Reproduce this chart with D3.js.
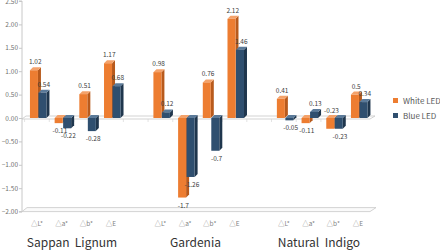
<!DOCTYPE html>
<html>
<head>
<meta charset="utf-8">
<script src="https://cdn.jsdelivr.net/npm/d3@7"></script>
<style>
  body { margin: 0; background: #fff; }
  text { font-family: "Noto Sans CJK KR", "Noto Sans", sans-serif; }
</style>
</head>
<body>
<svg id="chart" width="440" height="251"></svg>
<script>
// chart data
var metrics = ["△L*", "△a*", "△b*", "△E"];
var groups = ["Sappan  Lignum", "Gardenia", "Natural  Indigo"];
var whiteLED = [1.02, -0.11, 0.51, 1.17, 0.98, -1.7, 0.76, 2.12, 0.41, -0.11, -0.23, 0.5];
var blueLED = [0.54, -0.22, -0.28, 0.68, 0.12, -1.26, -0.7, 1.46, -0.05, 0.13, -0.23, 0.34];
var yTicks = [2.5, 2, 1.5, 1, 0.5, 0, -0.5, -1, -1.5, -2];
var seriesNames = ["White LED", "Blue LED"];

var colors = {
  white: { front: "#ed7d31", side: "#b85a1c", top: "#f4a26a" },
  blue: { front: "#2f4f6f", side: "#1f364d", top: "#5b7a99" }
};

var svg = d3.select("#chart");
var depth = 3;

// slots: 4 metrics per group, with an empty slot between groups
var slots = [];
var rows = [];
groups.forEach(function (g, gi) {
  metrics.forEach(function (m, mi) {
    var key = g + "|" + m;
    slots.push(key);
    rows.push({ key: key, metric: m, group: g, white: whiteLED[gi * 4 + mi], blue: blueLED[gi * 4 + mi] });
  });
  if (gi < groups.length - 1) slots.push("gap" + gi);
});

var x = d3.scaleBand().domain(slots).range([24.6, 370.3]).padding(0);
var x1 = d3.scaleBand().domain(["white", "blue"]).range([0, 17]);
var y = d3.scaleLinear().domain([-2, 2.5]).range([211.6, 1]);

// y axis
var yAxis = svg.append("g")
  .attr("transform", "translate(22,0)")
  .call(d3.axisLeft(y).tickValues(yTicks).tickSize(3).tickFormat(d3.format(".2f")));
yAxis.select(".domain").attr("stroke", "#c8c8c8").attr("d", "M-3," + y(2.5) + "H0V" + y(-2) + "H-3");
yAxis.selectAll(".tick line").attr("stroke", "#c8c8c8");
yAxis.selectAll(".tick text").attr("fill", "#707070").style("font-size", "6.5px").attr("x", -4);

// floor
var x0 = 22, xEnd = 370;
svg.append("path")
  .attr("d", "M" + x0 + "," + y(-2) + "L" + (x0 + 5) + "," + (y(-2) - 4) + "L" + (xEnd + 6) + "," + (y(-2) - 4) + "L" + xEnd + "," + y(-2) + "Z")
  .attr("fill", "#fafafa").attr("stroke", "#c8c8c8").attr("stroke-width", 0.8);

// zero plane
svg.append("path")
  .attr("d", "M" + x0 + "," + (y(0) + 1) + "L" + (x0 + 4) + "," + (y(0) - 2) + "L" + (xEnd + 5) + "," + (y(0) - 2) + "L" + xEnd + "," + (y(0) + 1) + "Z")
  .attr("fill", "none").attr("stroke", "#c8c8c8").attr("stroke-width", 0.8);

// small ticks along zero plane
svg.append("g").selectAll("line")
  .data(slots)
  .join("line")
  .attr("x1", function (d) { return x(d); })
  .attr("x2", function (d) { return x(d); })
  .attr("y1", y(0) + 1).attr("y2", y(0) + 4)
  .attr("stroke", "#d0d0d0").attr("stroke-width", 0.6);

// bars
function bar3d(g, bx, bw, v, c) {
  var yt = Math.min(y(v), y(0));
  var yb = Math.max(y(v), y(0));
  g.append("path")
    .attr("d", "M" + (bx + bw) + "," + yt + "l" + depth + "," + (-depth) + "V" + (yb - depth) + "l" + (-depth) + "," + depth + "Z")
    .attr("fill", c.side);
  g.append("path")
    .attr("d", "M" + bx + "," + yt + "l" + depth + "," + (-depth) + "h" + bw + "l" + (-depth) + "," + depth + "Z")
    .attr("fill", c.top);
  g.append("rect")
    .attr("x", bx).attr("y", yt)
    .attr("width", bw).attr("height", Math.max(yb - yt, 0.5))
    .attr("fill", c.front);
}

var barG = svg.append("g");
rows.forEach(function (d) {
  var cx = x(d.key) + x.bandwidth() / 2 - 7;
  ["white", "blue"].forEach(function (s) {
    bar3d(barG, cx + x1(s), x1.bandwidth() - 0.5, d[s], colors[s]);
  });
});

// value labels (when both bars share the same negative value, the white one sits above the zero line)
var labelG = svg.append("g");
rows.forEach(function (d) {
  var cx = x(d.key) + x.bandwidth() / 2 - 7;
  ["white", "blue"].forEach(function (s) {
    var v = d[s];
    var ly = v >= 0 ? y(v) - 6 : y(v) + 10;
    if (s === "white" && v < 0 && d.white === d.blue) ly = y(0) - 5;
    labelG.append("text")
      .attr("x", cx + x1(s) + x1.bandwidth() / 2 + 1)
      .attr("y", ly)
      .attr("text-anchor", "middle")
      .attr("fill", "#404040")
      .style("font-size", "6.5px")
      .text(String(v));
  });
});

// category labels
svg.append("g").selectAll("text")
  .data(rows)
  .join("text")
  .attr("x", function (d) { return x(d.key) + x.bandwidth() / 2; })
  .attr("y", 226)
  .attr("text-anchor", "middle")
  .attr("fill", "#7f7f7f")
  .style("font-size", "6.5px")
  .text(function (d) { return d.metric; });

// group labels
svg.append("g").selectAll("text")
  .data(groups)
  .join("text")
  .attr("x", function (g) {
    var a = x(g + "|" + metrics[0]), b = x(g + "|" + metrics[3]) + x.bandwidth();
    return (a + b) / 2 - 2;
  })
  .attr("y", 247)
  .attr("text-anchor", "middle")
  .attr("fill", "#333")
  .style("font-size", "12px")
  .style("white-space", "pre")
  .text(function (g) { return g; });

// legend
var legend = svg.append("g").attr("transform", "translate(393,98)");
seriesNames.forEach(function (n, i) {
  var c = i === 0 ? colors.white.front : colors.blue.front;
  legend.append("rect").attr("x", 0).attr("y", i * 15).attr("width", 5).attr("height", 5).attr("fill", c);
  legend.append("text").attr("x", 10).attr("y", i * 15 + 5.5).attr("fill", "#595959")
    .style("font-size", "8px").text(n);
});
</script>
</body>
</html>
